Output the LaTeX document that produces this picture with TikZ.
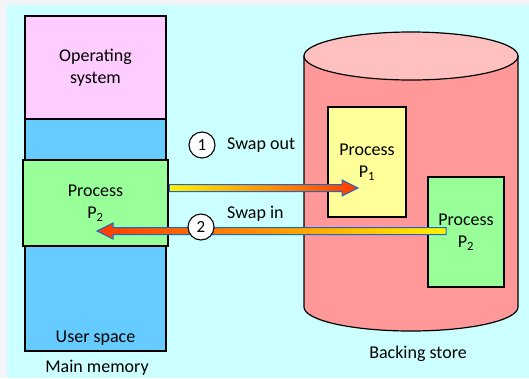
\documentclass[tikz,border=0pt]{standalone}
\usepackage{fontspec}
\setmainfont{Carlito}
\usetikzlibrary{calc}

\definecolor{pagegrey}{HTML}{F2F4F7}
\definecolor{bgcyan}{HTML}{CCFFFF}
\definecolor{ospink}{HTML}{FFCCFF}
\definecolor{userblue}{HTML}{66CCFF}
\definecolor{procgreen}{HTML}{99FF99}
\definecolor{procyellow}{HTML}{FFFF99}
\definecolor{diskbody}{HTML}{FF9999}
\definecolor{disktop}{HTML}{FFC0C0}
\definecolor{arrowedge}{HTML}{1F66CC}
\definecolor{hotend}{HTML}{FF3A00}
\definecolor{warmmid}{HTML}{FF9900}
\definecolor{coolend}{HTML}{FFF200}

\tikzset{
  label font/.style={font=\fontsize{18}{22}\selectfont},
  block/.style={draw=black, line width=1.2pt, inner sep=0pt, label font, align=center},
  numcircle/.style={circle, draw=black, line width=1.1pt, fill=white,
    minimum size=26pt, inner sep=0pt, font=\fontsize{17}{17}\selectfont},
  caption/.style={inner sep=0pt, label font},
  flowline/.style={draw=arrowedge, line width=1pt, line join=miter},
}

% block arrow from #1 to #2 (horizontal), extra options #3
\newcommand\blockarrow[3]{%
  \path[flowline,#3] let \p1=(#1), \p2=(#2), \n1={sign(\x2-\x1)} in
    (\x1,\y1+3.5pt) -- (\x2-\n1*16pt,\y1+3.5pt) -- (\x2-\n1*16pt,\y1+8pt)
    -- (\x2,\y1) -- (\x2-\n1*16pt,\y1-8pt) -- (\x2-\n1*16pt,\y1-3.5pt)
    -- (\x1,\y1-3.5pt) -- cycle;}

\begin{document}
\begin{tikzpicture}[x=1pt, y=-1pt]
  % page and panel background
  \fill[pagegrey] (0,0) rectangle (529,378);
  \fill[bgcyan] (7,5) rectangle (529,378);
  \useasboundingbox (0,0) rectangle (529,378);

  % main memory column
  \node[block, fill=ospink, minimum width=141pt, minimum height=103pt]
    (os) at (95.5,67.5) {Operating\\system};
  \node[block, fill=userblue, minimum width=141pt, minimum height=232pt]
    (user) at (95.5,235) {};
  \node[caption, anchor=base] (userlbl) at (95.5,342) {User space};
  \node[block, fill=procgreen, line width=2.6pt, minimum width=145pt, minimum height=86pt]
    (pmem) at (95.5,203) {Process\\P\textsubscript{2}};
  \node[caption, anchor=base] (memlbl) at (97,372) {Main memory};

  % backing store cylinder
  \path[draw=black, line width=1.2pt, fill=diskbody]
    (304,56) -- (304,307) arc[start angle=180, end angle=360, x radius=107, y radius=-24]
    -- (518,56) -- cycle;
  \path[draw=black, line width=1.2pt, fill=disktop]
    (411,56) ellipse[x radius=107, y radius=24];
  \node[caption, anchor=base] (storelbl) at (418,358) {Backing store};

  \node[block, fill=procyellow, minimum width=78pt, minimum height=110pt]
    (p1) at (367,162) {Process\\P\textsubscript{1}};
  \node[block, fill=procgreen, minimum width=76pt, minimum height=110pt]
    (pstore) at (466,232) {Process\\P\textsubscript{2}};

  % swap arrows
  \coordinate (outstart) at (pmem.east |- 0,188);
  \coordinate (outend) at (358,188);
  \coordinate (instart) at (446,231);
  \coordinate (inend) at (97,231);
  \blockarrow{outstart}{outend}{left color=coolend, middle color=warmmid, right color=hotend}
  \blockarrow{instart}{inend}{left color=hotend, middle color=warmmid, right color=coolend}

  \node[numcircle] (n1) at (202,145) {1};
  \node[caption, anchor=west] (outlbl) at (227,145) {Swap out};
  \node[numcircle] (n2) at (201,227) {2};
  \node[caption, anchor=west] (inlbl) at (227,214) {Swap in};
\end{tikzpicture}
\end{document}
